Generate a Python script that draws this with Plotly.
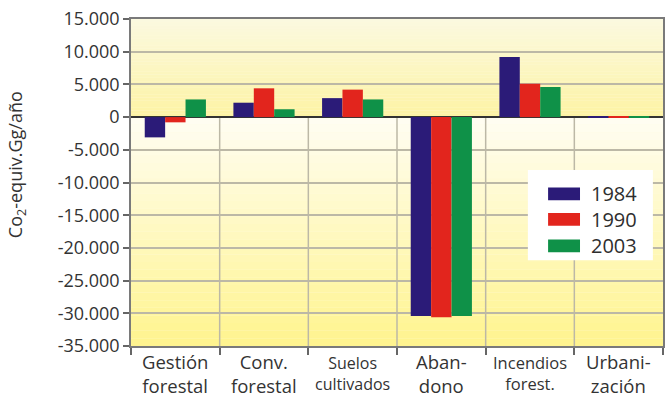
import plotly.graph_objects as go

# Emisiones netas por uso del suelo (Co2-equiv. Gg/año)
categories = ["Gestión forestal", "Conv. forestal", "Suelos cultivados",
              "Abandono", "Incendios forest.", "Urbanización"]
label_text = ["Gestión<br>forestal", "Conv.<br>forestal", "Suelos<br>cultivados",
              "Aban-<br>dono", "Incendios<br>forest.", "Urbani-<br>zación"]
label_size = [18.5, 18.5, 16, 18.5, 16.5, 18.5]
years = ["1984", "1990", "2003"]
values_1984 = [-3100, 2200, 2900, -30400, 9200, 100]
values_1990 = [-800, 4400, 4200, -30600, 5100, 150]
values_2003 = [2700, 1200, 2700, -30400, 4600, 100]
y_ticks = [15000, 10000, 5000, 0, -5000, -10000, -15000, -20000, -25000, -30000, -35000]
y_tick_text = ["15.000", "10.000", "5.000", "0", "-5.000", "-10.000", "-15.000",
               "-20.000", "-25.000", "-30.000", "-35.000"]

colors = ["#2b1b78", "#e2251d", "#0f9148"]
series = [values_1984, values_1990, values_2003]

Y_MIN, Y_MAX = -35000, 15000
MT, MB = 19, 51
PLOT_H = 397 - MT - MB

fig = go.Figure()
for name, vals, col in zip(years, series, colors):
    fig.add_trace(go.Bar(x=categories, y=vals, name=name, marker_color=col,
                         marker_line_width=0, showlegend=False))


def mix(c0, c1, t):
    a = [int(c0[i:i + 2], 16) for i in (1, 3, 5)]
    b = [int(c1[i:i + 2], 16) for i in (1, 3, 5)]
    return "#" + "".join(f"{round(a[k] + (b[k] - a[k]) * t):02x}" for k in range(3))


shapes = []
# soft yellow shading of the plot area, in bands
n = 30
top_c0, top_c1 = "#fbf9e0", "#fdf3a4"
for i in range(n):
    y0 = Y_MAX - Y_MAX * i / n
    y1 = Y_MAX - Y_MAX * (i + 1) / n
    shapes.append(dict(type="rect", xref="paper", yref="y", x0=0, x1=1, y0=y1, y1=y0,
                       fillcolor=mix(top_c0, top_c1, (i + 0.5) / n),
                       line_width=0, layer="below"))
bot_c0, bot_c1 = "#fffdf3", "#fff48e"
for i in range(n):
    y0 = Y_MIN * i / n
    y1 = Y_MIN * (i + 1) / n
    shapes.append(dict(type="rect", xref="paper", yref="y", x0=0, x1=1, y0=y1, y1=y0,
                       fillcolor=mix(bot_c0, bot_c1, (i + 0.5) / n),
                       line_width=0, layer="below"))
# category separators below the zero line
for k in range(len(categories) - 1):
    shapes.append(dict(type="line", xref="x", yref="y", x0=k + 0.5, x1=k + 0.5,
                       y0=Y_MIN, y1=0, line=dict(color="#bcb8a6", width=1.5),
                       layer="below"))

# legend box
shapes.append(dict(type="rect", xref="paper", yref="paper", x0=0.746, x1=0.981,
                   y0=0.262, y1=0.538, fillcolor="white", line_width=0, layer="above"))
legend_y = [(0.446, 0.485), (0.368, 0.407), (0.287, 0.326)]
annotations = []
for (ya, yb), col, name in zip(legend_y, colors, years):
    shapes.append(dict(type="rect", xref="paper", yref="paper", x0=0.784, x1=0.844,
                       y0=ya, y1=yb, fillcolor=col, line_width=0, layer="above"))
    annotations.append(dict(xref="paper", yref="paper", x=0.861, y=(ya + yb) / 2,
                            text=name, showarrow=False, xanchor="left", yanchor="middle",
                            font=dict(size=20, color="#2e2e2e")))

# two-line category labels under the axis
for cat, txt, sz in zip(categories, label_text, label_size):
    annotations.append(dict(xref="x", yref="paper", x=cat,
                            y=-(373 - (397 - MB)) / PLOT_H,
                            text=txt, showarrow=False, xanchor="center",
                            yanchor="middle", borderpad=0,
                            font=dict(size=sz, color="#333333")))

annotations.append(dict(xref="paper", yref="paper", x=-0.214,
                        y=(397 - MB - 165) / PLOT_H,
                        text="Co<sub>2</sub>-equiv.Gg/año", textangle=-90,
                        showarrow=False, xanchor="center", yanchor="middle",
                        font=dict(size=18, color="#333333")))

fig.update_layout(
    width=665, height=397,
    margin=dict(l=131, r=2, t=MT, b=MB),
    paper_bgcolor="white",
    plot_bgcolor="#fffbe0",
    font=dict(family="Open Sans", size=18, color="#333333"),
    barmode="group", bargap=0.31, bargroupgap=0,
    shapes=shapes, annotations=annotations,
    showlegend=False,
)
fig.update_xaxes(
    showticklabels=False,
    tickson="boundaries", ticks="outside", ticklen=7, tickcolor="#666666",
    tickwidth=1.5, showgrid=False, showline=True, linecolor="#7a7a7a",
    linewidth=1.5, mirror=True, automargin=False,
)
fig.update_yaxes(
    range=[Y_MIN, Y_MAX], tickmode="array", tickvals=y_ticks, ticktext=y_tick_text,
    ticks="outside", ticklen=6, tickcolor="#666666", tickwidth=1.5,
    showgrid=True, gridcolor="#bcb8a6", gridwidth=1.5,
    zeroline=True, zerolinecolor="#333333", zerolinewidth=1.5,
    showline=True, linecolor="#7a7a7a", linewidth=1.5, mirror=True,
    tickfont=dict(size=18, color="#333333"), automargin=False,
)

fig.write_html("out.html")
